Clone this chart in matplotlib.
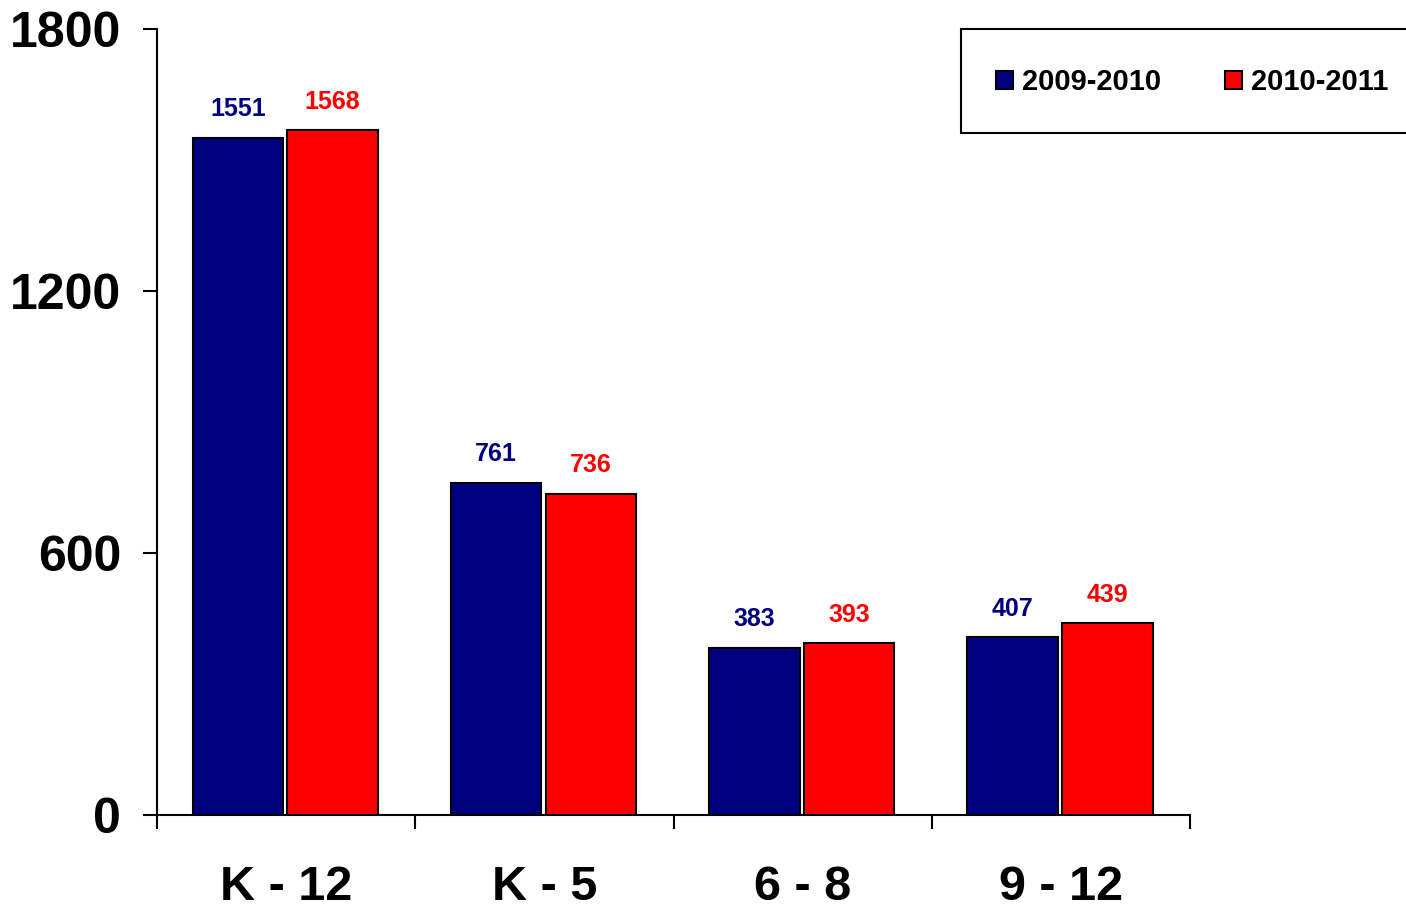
import numpy as np
import matplotlib.pyplot as plt
from matplotlib.patches import Rectangle

plt.rcParams['font.family'] = ['Liberation Sans', 'DejaVu Sans']
plt.rcParams['font.weight'] = 'bold'

# enrollment by grade band
categories = ['K - 12', 'K - 5', '6 - 8', '9 - 12']
series_names = ['2009-2010', '2010-2011']
values_0910 = [1551, 761, 383, 407]
values_1011 = [1568, 736, 393, 439]
yticks = [0, 600, 1200, 1800]

bar_colors = ['#000080', '#FF0000']
label_colors = ['#000080', '#FF0000']

fig = plt.figure(figsize=(14.06, 9.09), dpi=100)
ax = fig.add_axes([157 / 1406, 1 - 815 / 909, (1190 - 157) / 1406, (815 - 29) / 909])

x = np.arange(len(categories))
width = 0.35
offsets = [-0.187, 0.18]
for vals, off, col, lcol, name in zip([values_0910, values_1011], offsets,
                                      bar_colors, label_colors, series_names):
    bars = ax.bar(x + off, vals, width, color=col, edgecolor='black',
                  linewidth=1.5, label=name)
    for b, v in zip(bars, vals):
        ax.annotate(str(v), (b.get_x() + b.get_width() / 2, v),
                    xytext=(0, 12), textcoords='offset points',
                    ha='center', va='bottom', fontsize=18,
                    fontweight='bold', color=lcol)

ax.set_xlim(-0.5, len(categories) - 0.5)
ax.set_ylim(0, 1800)

# ticks at category boundaries, labels at centres
ax.set_xticks(np.arange(len(categories) + 1) - 0.5)
ax.set_xticklabels([])
ax.set_xticks(x, minor=True)
ax.set_xticklabels(categories, minor=True, fontsize=35, fontweight='bold')
ax.tick_params(axis='x', which='major', direction='out', length=10, width=1.5)
ax.tick_params(axis='x', which='minor', length=0, pad=36)

ax.set_yticks(yticks)
ax.set_yticklabels([str(t) for t in yticks], fontsize=36, fontweight='bold')
ax.tick_params(axis='y', direction='out', length=10, width=1.5, pad=16)

for s in ['top', 'right']:
    ax.spines[s].set_visible(False)
for s in ['left', 'bottom']:
    ax.spines[s].set_linewidth(1.5)

# legend box runs off the right edge
fig.patches.append(Rectangle((961 / 1406, 1 - 133 / 909), 0.4, 104 / 909,
                             transform=fig.transFigure, facecolor='white',
                             edgecolor='black', linewidth=1.5, zorder=0))
handles, labels = ax.get_legend_handles_labels()
fig.legend(handles, labels, loc='center left',
           bbox_to_anchor=(996 / 1406, 1 - 82 / 909), ncol=2, frameon=False,
           borderpad=0, borderaxespad=0, handlelength=0.58, handleheight=0.58,
           handletextpad=0.3, columnspacing=2.2,
           prop={'size': 21, 'weight': 'bold'})

fig.savefig('out.png', dpi=100)
